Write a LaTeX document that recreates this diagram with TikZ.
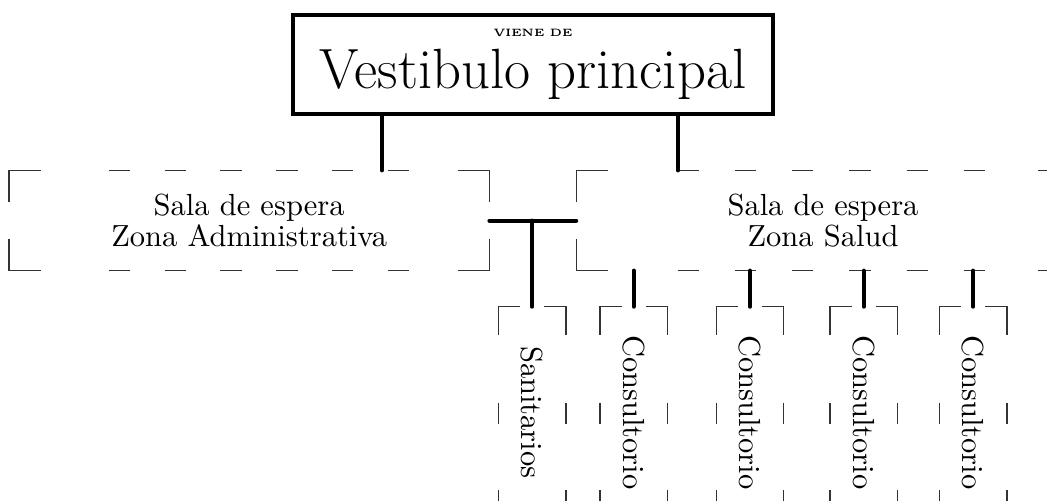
\documentclass[tikz,border=0pt]{standalone}
\usetikzlibrary{positioning,decorations}

% esquinas de un recuadro punteado: nodo, tramo horizontal, tramo vertical
\newcommand{\esquinas}[3]{%
  \draw[tramo] ([yshift=-#3]#1.north west) -- (#1.north west) -- ([xshift=#2]#1.north west);
  \draw[tramo] ([xshift=-#2]#1.north east) -- (#1.north east) -- ([yshift=-#3]#1.north east);
  \draw[tramo] ([yshift=#3]#1.south east) -- (#1.south east) -- ([xshift=-#2]#1.south east);
  \draw[tramo] ([xshift=#2]#1.south west) -- (#1.south west) -- ([yshift=#3]#1.south west);
}

\begin{document}
\begin{tikzpicture}[
  zona/.style={minimum height=1.14cm, align=center, inner sep=0pt},
  cuarto/.style={minimum width=0.76cm, minimum height=2.42cm, inner sep=0pt},
  tramo/.style={draw=black!80, line width=0.5pt},
  trazo/.style={tramo, dash pattern=on 7pt off 10pt, dash expand off},
  conn/.style={line width=1.3pt, line cap=round}]
\useasboundingbox (0,0) rectangle (12.06,5.76);
\node[draw, line width=1.3pt, minimum width=5.53cm, minimum height=1.14cm, align=center,
  font=\fontsize{18.6}{17}\selectfont] (vest) at (6.14,5.02)
  {{\fontsize{3.5}{4}\selectfont\bfseries VIENE DE}\\Vestibulo principal};
\node[zona, minimum width=5.52cm] (admin) at (2.87,3.22) {Sala de espera\\[-2pt]Zona Administrativa};
\node[zona, minimum width=5.67cm] (salud) at (9.48,3.22) {Sala de espera\\[-2pt]Zona Salud};
\node[cuarto] (sanit) at (6.13,1.01) {\rotatebox{-90}{Sanitarios}};
\node[cuarto] (cons1) at (7.30,1.01) {\rotatebox{-90}{Consultorio}};
\node[cuarto] (cons2) at (8.64,1.01) {\rotatebox{-90}{Consultorio}};
\node[cuarto] (cons3) at (9.95,1.01) {\rotatebox{-90}{Consultorio}};
\node[cuarto] (cons4) at (11.21,1.01) {\rotatebox{-90}{Consultorio}};

% recuadros punteados
\foreach \z in {admin,salud} {
  \esquinas{\z}{10.4pt}{10.4pt}
  \draw[trazo, shorten <=21.5pt, shorten >=21.5pt] (\z.north west) -- (\z.north east);
  \draw[trazo, shorten <=21.5pt, shorten >=21.5pt] (\z.south west) -- (\z.south east);
}
\foreach \z in {sanit,cons1,cons2,cons3,cons4} {
  \esquinas{\z}{7pt}{9.2pt}
  \draw[trazo, shorten <=19.5pt, shorten >=19.5pt] (\z.north west) -- (\z.south west);
  \draw[trazo, shorten <=19.5pt, shorten >=19.5pt] (\z.north east) -- (\z.south east);
}

\coordinate (bajaA) at (4.40,0);
\coordinate (bajaB) at (7.81,0);
\draw[conn] (bajaA |- vest.south) -- (bajaA |- admin.north);
\draw[conn] (bajaB |- vest.south) -- (bajaB |- salud.north);
\draw[conn] (admin.east) -- (salud.west);
\draw[conn] (admin.east -| sanit.north) -- (sanit.north);
\foreach \c in {cons1,cons2,cons3,cons4}
  \draw[conn] (salud.south -| \c.north) -- (\c.north);
\end{tikzpicture}
\end{document}
